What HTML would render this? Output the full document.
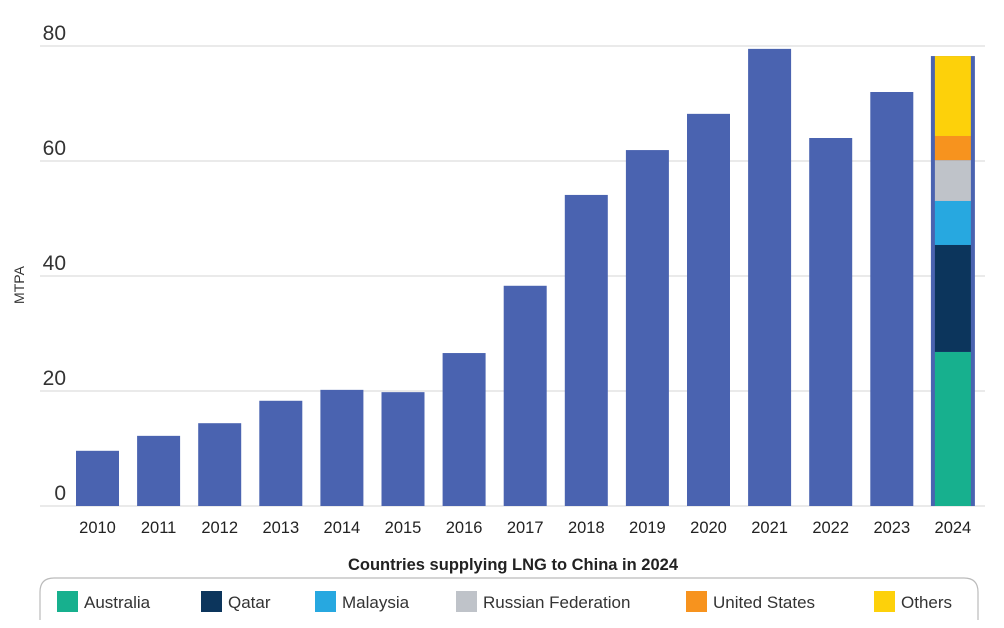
<!DOCTYPE html>
<html><head><meta charset="utf-8"><style>
body{margin:0;background:#fff;}
svg{display:block;font-family:"Liberation Sans",sans-serif;}
</style></head><body>
<svg id="c" width="1004" height="628">
<g id="grid"></g><g id="bars"></g><g id="xl"></g>
<text x="24" y="285" transform="rotate(-90 24 285)" text-anchor="middle" font-size="14" fill="#333">MTPA</text>
<text x="513" y="570" text-anchor="middle" font-size="16.5" font-weight="bold" fill="#222">Countries supplying LNG to China in 2024</text>
<path d="M40,620 L40,592 Q40,578 54,578 L964,578 Q978,578 978,592 L978,620" fill="none" stroke="#bbb" stroke-width="1.2"/>
<g id="leg"></g>
</svg>
<script>
const years=["2010","2011","2012","2013","2014","2015","2016","2017","2018","2019","2020","2021","2022","2023"];
const totals=[9.6,12.2,14.4,18.3,20.2,19.8,26.6,38.3,54.1,61.9,68.2,79.5,64,72];
const countries=["Australia","Qatar","Malaysia","Russian Federation","United States","Others"];
const shares2024=[26.8,18.6,7.65,7.1,4.2,13.9];
const colors=["#17b08e","#0c355c","#27a8e0","#bfc3c9","#f7931e","#fdd10a"];
const yTicks=[0,20,40,60,80];
const legX=[57,201,315,456,686,874];
const NS="http://www.w3.org/2000/svg";
const y=v=>506-v*5.75;
const x=i=>76+i*61.1;
function mk(t,a,p){const e=document.createElementNS(NS,t);for(const k in a)e.setAttribute(k,a[k]);p.appendChild(e);return e;}
const g=document.getElementById('grid');
yTicks.forEach(v=>{
 const l=mk('line',{x1:40,x2:985,y1:y(v),y2:y(v),stroke:'#ddd','stroke-width':1.2},g);
 
 
 const t=mk('text',{x:66,y:y(v)-6,'text-anchor':'end','font-size':21,fill:'#333'},g);
 t.textContent=v;
 
 
});
const b=document.getElementById('bars'),xl=document.getElementById('xl');
years.concat(["2024"]).forEach((yr,i)=>{
 const t=mk('text',{x:x(i)+21.5,y:533,'text-anchor':'middle','font-size':16.5,fill:'#222'},xl);
 t.textContent=yr;
 
 
});
totals.forEach((v,i)=>{
 const r=mk('rect',{x:x(i),y:y(v),width:43,height:506-y(v),fill:'#4a63b0'},b);
 
 
});
const i24=14;let acc=0;
const tot24=shares2024.reduce((a,c)=>a+c,0);
const outer=mk('rect',{x:x(i24)-0.5,y:y(tot24),width:44,height:506-y(tot24),fill:'#4a63b0'},b);


shares2024.forEach((v,k)=>{
 const r=mk('rect',{x:x(i24)+3.5,y:y(acc+v),width:36,height:v*5.75,fill:colors[k]},b);
 
 
 acc+=v;
});
const lg=document.getElementById('leg');
countries.forEach((c,k)=>{
 const s=mk('rect',{x:legX[k],y:591,width:21,height:21,fill:colors[k]},lg);
 
 
 const t=mk('text',{x:legX[k]+27,y:608,'font-size':17,fill:'#333'},lg);
 t.textContent=c;
 
 
});
</script>
</body></html>
